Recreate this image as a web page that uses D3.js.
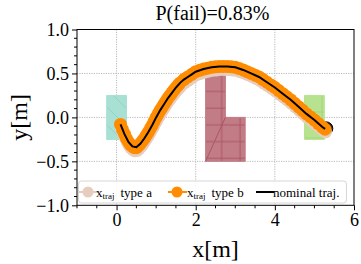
<!DOCTYPE html>
<html>
<head>
<meta charset="utf-8">
<script src="https://cdn.jsdelivr.net/npm/d3@7"></script>
<style>
  html, body { margin: 0; padding: 0; background: #fff; }
  svg { display: block; }
  svg text { font-family: "Liberation Serif", serif; }
</style>
</head>
<body>
<div id="chart"></div>
<script>
// chart data
const titleText = "P(fail)=0.83%";
const xTicks = [0, 2, 4, 6];
const yTicks = [-1.0, -0.5, 0.0, 0.5, 1.0];

// nominal trajectory
const nomX = [0.10, 0.20, 0.30, 0.40, 0.50, 0.60, 0.70, 0.80, 0.90, 1.00, 1.10, 1.20, 1.30, 1.40, 1.50, 1.60, 1.70, 1.80, 1.90, 2.00,
  2.20, 2.40, 2.60, 2.80, 3.00, 3.20, 3.40, 3.60, 3.80, 4.00, 4.20, 4.40, 4.60, 4.80, 5.00, 5.10, 5.20, 5.27];
const nomY = [-0.08, -0.19, -0.28, -0.33, -0.34, -0.30, -0.24, -0.17, -0.09, 0.00, 0.08, 0.15, 0.22, 0.28, 0.34, 0.39, 0.43, 0.46, 0.49, 0.52,
  0.55, 0.57, 0.58, 0.58, 0.57, 0.54, 0.50, 0.46, 0.40, 0.34, 0.27, 0.20, 0.12, 0.04, -0.03, -0.07, -0.11, -0.13];
const goal = [5.30, -0.125];

// sampled trajectories (type b, orange)
const bX = [0.10, 0.15, 0.20, 0.25, 0.30, 0.35, 0.40, 0.45, 0.50, 0.55, 0.60, 0.65, 0.70, 0.75, 0.80, 0.85, 0.90, 0.95, 1.00, 1.05,
  1.10, 1.15, 1.20, 1.25, 1.30, 1.35, 1.40, 1.45, 1.50, 1.55, 1.60, 1.70, 1.80, 1.90, 2.00, 2.10, 2.20, 2.30, 2.40, 2.50,
  2.60, 2.70, 2.80, 2.90, 3.00, 3.10, 3.20, 3.30, 3.40, 3.50, 3.60, 3.70, 3.80, 3.90, 4.00, 4.10, 4.20, 4.30, 4.40, 4.50,
  4.60, 4.70, 4.80, 4.90, 5.00, 5.10, 5.20, 5.27];
const bY = [-0.08, -0.14, -0.19, -0.24, -0.28, -0.31, -0.33, -0.345, -0.345, -0.325, -0.30, -0.27, -0.24, -0.205, -0.17, -0.13, -0.09, -0.045, 0.00, 0.04,
  0.08, 0.115, 0.15, 0.185, 0.22, 0.25, 0.28, 0.31, 0.34, 0.365, 0.39, 0.43, 0.46, 0.49, 0.52, 0.535, 0.55, 0.56, 0.57, 0.575,
  0.58, 0.58, 0.58, 0.575, 0.57, 0.555, 0.54, 0.52, 0.50, 0.48, 0.46, 0.43, 0.40, 0.37, 0.34, 0.305, 0.27, 0.235, 0.20, 0.16,
  0.12, 0.08, 0.04, 0.005, -0.03, -0.07, -0.11, -0.135];

// sampled trajectories (type a, beige)
const aX = [0.12, 0.17, 0.22, 0.27, 0.32, 0.37, 0.42, 0.47, 0.52, 0.57, 0.62, 0.67, 0.72, 0.77, 0.82, 0.87, 0.92, 0.97, 1.02, 1.07,
  1.12, 1.17, 1.22, 1.27, 1.32, 1.37, 1.42, 1.47, 1.52, 1.57, 1.62, 1.72, 1.82, 1.92, 2.02, 2.12, 2.22, 2.32, 2.42, 2.52,
  2.62, 2.72, 2.82, 2.92, 3.02, 3.12, 3.22, 3.32, 3.42, 3.52, 3.62, 3.72, 3.82, 3.92, 4.02, 4.12, 4.22, 4.32, 4.42, 4.52,
  4.62, 4.72, 4.82, 4.92, 5.02, 5.12, 5.22, 5.28];
const aY = [-0.12, -0.18, -0.23, -0.28, -0.32, -0.35, -0.37, -0.38, -0.375, -0.355, -0.33, -0.30, -0.265, -0.23, -0.195, -0.155, -0.115, -0.07, -0.03, 0.01,
  0.05, 0.085, 0.12, 0.155, 0.19, 0.22, 0.25, 0.28, 0.305, 0.33, 0.355, 0.395, 0.425, 0.455, 0.485, 0.50, 0.515, 0.525, 0.535, 0.54,
  0.545, 0.545, 0.545, 0.54, 0.535, 0.52, 0.505, 0.485, 0.465, 0.445, 0.42, 0.39, 0.36, 0.33, 0.30, 0.265, 0.23, 0.195, 0.16, 0.12,
  0.08, 0.04, 0.0, -0.035, -0.07, -0.11, -0.145, -0.165];

// obstacles / regions
const startBox = [[-0.25, -0.25], [0.25, -0.25], [0.25, 0.25], [-0.25, 0.25]];
const goalBox = [[4.75, -0.25], [5.25, -0.25], [5.25, 0.25], [4.75, 0.25]];
const obstacle = [[2.25, -0.5], [3.25, -0.5], [3.25, 0.0], [2.75, 0.0], [2.75, 0.5], [2.25, 0.5]];

const FONT = "Liberation Serif";
const W = 361, H = 264;
const margin = { left: 77, right: 7, top: 29.5, bottom: 58.7 };
const iw = W - margin.left - margin.right;
const ih = H - margin.top - margin.bottom;

const svg = d3.select("#chart").append("svg").attr("width", W).attr("height", H);
const defs = svg.append("defs");

const x = d3.scaleLinear().domain([-1, 6]).range([margin.left, margin.left + iw]);
const y = d3.scaleLinear().domain([-1, 1]).range([margin.top + ih, margin.top]);

// hatch patterns
function hatch(id, bg, stroke, w, h, paths) {
  const p = defs.append("pattern").attr("id", id).attr("patternUnits", "userSpaceOnUse")
    .attr("width", w).attr("height", h);
  p.append("rect").attr("width", w).attr("height", h).attr("fill", bg);
  paths.forEach(d => p.append("path").attr("d", d).attr("stroke", stroke).attr("stroke-width", 1).attr("fill", "none"));
}
hatch("hTeal", "#a8e0d3", "#93d3c4", 18, 18, ["M0,0L18,18", "M-9,9L9,27", "M9,-9L27,9"]);
hatch("hRed", "#c27c86", "#ac5565", 18.3, 16.7, ["M2.1,0V16.7", "M0,8H18.3"]);
hatch("hGreen", "#b7e28f", "#a6d77c", 26, 26, ["M10,0V26", "M0,8H26"]);

const clip = defs.append("clipPath").attr("id", "plotClip");
clip.append("rect").attr("x", margin.left).attr("y", margin.top).attr("width", iw).attr("height", ih);

// grid
const grid = svg.append("g").attr("stroke", "#b8b8b8").attr("stroke-width", 1).attr("stroke-dasharray", "1.2,1.2");
xTicks.filter(t => t > -1 && t < 6).forEach(t => {
  grid.append("line").attr("x1", x(t)).attr("x2", x(t)).attr("y1", margin.top).attr("y2", margin.top + ih);
});
yTicks.filter(t => t > -1 && t < 1).forEach(t => {
  grid.append("line").attr("x1", margin.left).attr("x2", margin.left + iw).attr("y1", y(t)).attr("y2", y(t));
});

const plot = svg.append("g").attr("clip-path", "url(#plotClip)");
const poly = d3.line().x(d => x(d[0])).y(d => y(d[1]));

plot.append("path").attr("d", poly(startBox) + "Z").attr("fill", "url(#hTeal)").attr("stroke", "#a8e0d3");
plot.append("path").attr("d", poly(goalBox) + "Z").attr("fill", "url(#hGreen)").attr("stroke", "#b7e28f");
plot.append("path").attr("d", poly(obstacle) + "Z").attr("fill", "url(#hRed)").attr("stroke", "#c27c86");
plot.append("path").attr("d", poly([obstacle[0], obstacle[3]])).attr("stroke", "#ac5565").attr("stroke-width", 1);

// goal marker
plot.append("circle").attr("cx", x(goal[0])).attr("cy", y(goal[1])).attr("r", 6.5)
  .attr("fill", "#222").attr("stroke", "#000");

const curve = d3.line().x(d => x(d[0])).y(d => y(d[1]));
function traj(xs, ys, color) {
  const pts = xs.map((v, i) => [v, ys[i]]);
  plot.append("path").attr("d", curve(pts)).attr("fill", "none").attr("stroke", color).attr("stroke-width", 2);
  plot.append("g").selectAll("circle").data(pts).join("circle")
    .attr("cx", d => x(d[0])).attr("cy", d => y(d[1])).attr("r", 6.5).attr("fill", color);
}
traj(aX, aY, "#e7cdbf");
traj(bX, bY, "#ff8c00");

plot.append("path").attr("d", curve(nomX.map((v, i) => [v, nomY[i]])))
  .attr("fill", "none").attr("stroke", "#000").attr("stroke-width", 2);

// axes
const xAxis = d3.axisBottom(x).tickValues(xTicks).tickSize(5).tickPadding(3).tickFormat(d3.format("d"));
const yAxis = d3.axisLeft(y).tickValues(yTicks).tickSize(5).tickPadding(3).tickFormat(d => d3.format(".1f")(d).replace("-", "\u2212"));

const gx = svg.append("g").attr("transform", `translate(0,${margin.top + ih})`).call(xAxis);
const gy = svg.append("g").attr("transform", `translate(${margin.left},0)`).call(yAxis);
[gx, gy].forEach(g => {
  g.attr("font-size", 18);
  g.select(".domain").remove();
  g.selectAll("text").attr("fill", "#000");
  g.selectAll("line").attr("stroke", "#000");
});

// minor ticks
const minorX = d3.range(-1, 6.01, 0.5).filter(v => !xTicks.includes(v));
const minorY = d3.range(-10, 11).map(v => v / 10).filter(v => !yTicks.includes(v));
svg.append("g").selectAll("line").data(minorX).join("line")
  .attr("x1", d => x(d)).attr("x2", d => x(d)).attr("y1", margin.top + ih).attr("y2", margin.top + ih + 3)
  .attr("stroke", "#000");
svg.append("g").selectAll("line").data(minorY).join("line")
  .attr("x1", margin.left - 3).attr("x2", margin.left).attr("y1", d => y(d)).attr("y2", d => y(d))
  .attr("stroke", "#000");

// frame
svg.append("rect").attr("x", margin.left).attr("y", margin.top).attr("width", iw).attr("height", ih)
  .attr("fill", "none").attr("stroke", "#000").attr("stroke-width", 1);

// legend
const lg = svg.append("g");
lg.append("rect").attr("x", 78.5).attr("y", 181).attr("width", 268).attr("height", 22).attr("rx", 3)
  .attr("fill", "#fff").attr("fill-opacity", 0.85).attr("stroke", "#d6d6d6");
const items = [
  { color: "#e7cdbf", x0: 78.5, x1: 98, m: 88, tx: 96, sub: true, label: "type a" },
  { color: "#ff8c00", x0: 168, x1: 187, m: 177, tx: 187, sub: true, label: "type b" },
  { color: "#000", x0: 256, x1: 274, m: null, tx: 273, sub: false, label: "nominal traj." }
];
items.forEach(it => {
  lg.append("line").attr("x1", it.x0).attr("x2", it.x1).attr("y1", 192).attr("y2", 192)
    .attr("stroke", it.color).attr("stroke-width", 2);
  if (it.m !== null) lg.append("circle").attr("cx", it.m).attr("cy", 192).attr("r", 5.5).attr("fill", it.color);
  const t = lg.append("text").attr("x", it.tx).attr("y", 196.5).attr("font-size", 13).attr("fill", "#000");
  if (it.sub) {
    t.append("tspan").text("x");
    t.append("tspan").attr("font-size", 9).attr("dy", 2.5).text("traj");
    t.append("tspan").attr("dy", -2.5).attr("dx", 6).text(it.label);
  } else {
    t.text(it.label);
  }
});

// title and labels
svg.append("text").attr("x", margin.left + iw / 2 - 3).attr("y", 20).attr("text-anchor", "middle")
  .attr("font-size", 20).text(titleText);
svg.append("text").attr("x", margin.left + iw / 2).attr("y", H - 7).attr("text-anchor", "middle")
  .attr("font-size", 24).text("x[m]");
svg.append("text").attr("transform", `translate(27,${margin.top + ih / 2}) rotate(-90)`)
  .attr("text-anchor", "middle").attr("font-size", 24).text("y[m]");

svg.selectAll("text").attr("font-family", FONT);
</script>
</body>
</html>
